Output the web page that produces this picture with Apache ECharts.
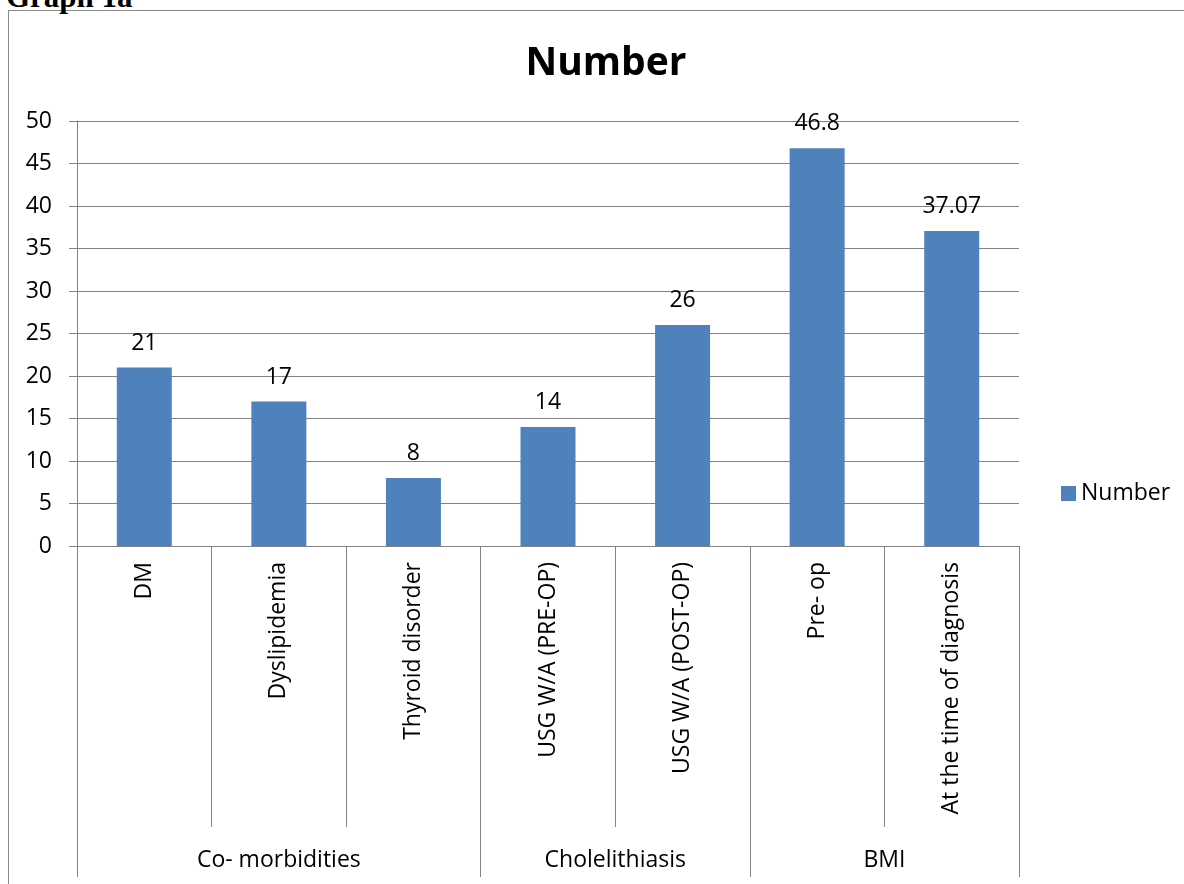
<!DOCTYPE html>
<html>
<head>
<meta charset="utf-8">
<script src="https://cdn.jsdelivr.net/npm/echarts@6/dist/echarts.min.js"></script>
<style>
  html, body { margin:0; padding:0; background:#fff; overflow:hidden; }
  #frame { position:absolute; left:8px; top:10px; width:1300px; height:1000px; border:1px solid #8a8a8a; box-sizing:border-box; }
  #cap { position:absolute; left:6px; top:-19px; font-family:"Liberation Serif", serif; font-weight:bold; font-size:31px; line-height:31px; color:#000; white-space:nowrap; }
  #chart { position:absolute; left:0; top:0; width:1184px; height:884px; }
</style>
</head>
<body>
<div id="frame"></div>
<div id="cap">Graph 1a</div>
<div id="chart"></div>
<script>
const categories = ['DM', 'Dyslipidemia', 'Thyroid disorder', 'USG W/A (PRE-OP)', 'USG W/A (POST-OP)', 'Pre- op', 'At the time of diagnosis'];
const values = [21, 17, 8, 14, 26, 46.8, 37.07];
const groupNames = ['Co- morbidities', 'Cholelithiasis', 'BMI'];
const groupSizes = [3, 2, 2];
const seriesName = 'Number';

const FONT = '"Open Sans", sans-serif';
const GREY = '#828282';
const SHORT_TICK = 281;
const LONG_TICK = 331;
const GROUP_LABEL_Y = 314;

const groupData = [];
let start = 0;
groupSizes.forEach((n, i) => { groupData.push([start, start + n - 1, i]); start += n; });

function crisp(x) {
  const d = Math.round(x * 2);
  return (d + 1) % 2 === 0 ? d / 2 : (d + 1) / 2;
}

function renderGroup(params, api) {
  const s = api.value(0), e = api.value(1);
  const w = api.size([1, 0])[0];
  const ps = api.coord([s, 0]);
  const pe = api.coord([e, 0]);
  const x0 = crisp(ps[0] - w / 2);
  const x1 = crisp(pe[0] + w / 2);
  const yb = ps[1];
  const style = { stroke: GREY, lineWidth: 1 };
  const children = [];
  if (params.dataIndex === 0) {
    children.push({ type: 'line', shape: { x1: x0, y1: yb + SHORT_TICK - 1, x2: x0, y2: yb + LONG_TICK }, style });
  }
  children.push({ type: 'line', shape: { x1: x1, y1: yb + SHORT_TICK - 1, x2: x1, y2: yb + LONG_TICK }, style });
  children.push({ type: 'text', style: { text: groupNames[params.dataIndex], x: (ps[0] - w / 2 + pe[0] + w / 2) / 2, y: yb + GROUP_LABEL_Y, align: 'center', verticalAlign: 'middle', fontSize: 23, fontFamily: FONT, fill: '#000' } });
  return { type: 'group', children };
}

const chart = echarts.init(document.getElementById('chart'), null, { renderer: 'canvas' });
chart.setOption({
  backgroundColor: 'transparent',
  animation: false,
  title: { text: 'Number', left: 601, top: 39, textAlign: 'center', textStyle: { fontFamily: FONT, fontSize: 39, fontWeight: 'bold', color: '#000' } },
  legend: { data: [seriesName], left: 1061, top: 482, padding: 0, itemWidth: 15, itemHeight: 15, icon: 'rect', textStyle: { fontFamily: FONT, fontSize: 23, color: '#000' } },
  grid: { left: 77, right: 165, top: 121, bottom: 338, containLabel: false },
  xAxis: {
    type: 'category', data: categories,
    axisLine: { show: true, lineStyle: { color: GREY, width: 1 } },
    axisTick: { show: true, interval: 0, length: SHORT_TICK, lineStyle: { color: GREY, width: 1 } },
    axisLabel: { interval: 0, rotate: 90, margin: 16, fontFamily: FONT, fontSize: 23, color: '#000' },
    splitLine: { show: false }
  },
  yAxis: {
    type: 'value', min: 0, max: 50, interval: 5,
    axisLine: { show: true, lineStyle: { color: GREY, width: 1 } },
    axisTick: { show: true, length: 8, lineStyle: { color: GREY, width: 1 } },
    axisLabel: { margin: 25, fontFamily: FONT, fontSize: 23, color: '#000' },
    splitLine: { show: true, lineStyle: { color: GREY, width: 1 } }
  },
  series: [
    {
      name: seriesName, type: 'bar', data: values, barWidth: 55,
      itemStyle: { color: '#4f81bd' },
      label: { show: true, position: 'top', distance: 13, fontFamily: FONT, fontSize: 23, color: '#000' }
    },
    {
      type: 'custom', data: groupData, renderItem: renderGroup, clip: false, silent: true,
      encode: { x: 0, y: 2 }, z: 5
    }
  ]
});
</script>
</body>
</html>
